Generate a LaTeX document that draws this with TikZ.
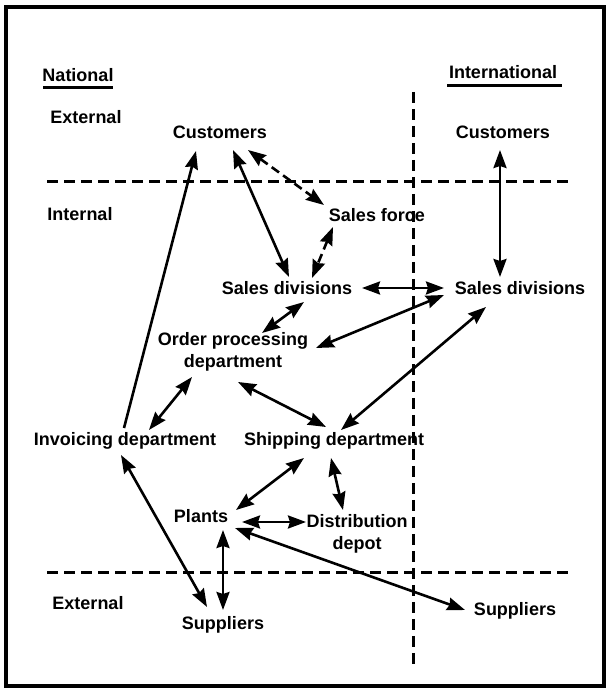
\documentclass[tikz,border=0pt]{standalone}
\usepackage{fontspec}
\setmainfont{Liberation Sans}
\usepackage{xcolor}
\usetikzlibrary{arrows.meta,positioning,calc}

\begin{document}
\begin{tikzpicture}[
        x=1pt, y=1pt,
        unit_node/.style={
            font=\fontsize{18}{22}\selectfont\bfseries,
            align=center,
            inner sep=2pt
        },
        solid_arrow/.style={
            draw=black,
            line width=2.6pt,
            {Stealth[length=18pt,width=13pt,inset=2pt]}-{Stealth[length=18pt,width=13pt,inset=2pt]}
        },
        single_arrow/.style={
            draw=black,
            line width=2.6pt,
            -{Stealth[length=18pt,width=13pt,inset=2pt]}
        },
        dashed_arrow/.style={
            solid_arrow,
            dash pattern=on 9pt off 5pt
        },
        divider/.style={
            draw=black,
            line width=3pt,
            dash pattern=on 11pt off 6pt
        },
        bar/.style={
            draw=black,
            line width=3pt
        }
    ]
        \useasboundingbox (0,0) rectangle (608,691);
        \draw[line width=3.5pt] (6,5) rectangle (604,684);
        \draw[line width=2pt] (5,5) -- (5,684);

        % Headings
        \node[unit_node] (nat)   at (78,616)  {National};
        \node[unit_node] (intl)  at (503,619) {International};
        \node[unit_node] (ext1)  at (86,574)  {External};
        \node[unit_node] (int1)  at (80,477)  {Internal};
        \node[unit_node] (ext2)  at (88,88)   {External};
        \draw[bar] (43,603) -- (113,603);
        \draw[bar] (447,605) -- (562,605);

        % Dividers
        \draw[divider] (47,509) -- (570,509);
        \draw[divider] (47,118) -- (570,118);
        \draw[divider] (413,599) -- (413,21);

        % Coordinates
        \node[unit_node] (cust_nat) at (220,559) {Customers};
        \node[unit_node] (cust_int) at (503,559) {Customers};
        \node[unit_node] (force)    at (377,476) {Sales force};
        \node[unit_node] (div_nat)  at (287,403) {Sales divisions};
        \node[unit_node] (div_int)  at (520,403) {Sales divisions};
        \node[unit_node] (order)    at (233,339) {Order processing\\department};
        \node[unit_node] (inv)      at (125,250) {Invoicing department};
        \node[unit_node] (ship)     at (334,250) {Shipping department};
        \node[unit_node] (plants)   at (201,175) {Plants};
        \node[unit_node] (depot)    at (357,157) {Distribution\\depot};
        \node[unit_node] (supp_nat) at (223,66)  {Suppliers};
        \node[unit_node] (supp_int) at (515,80)  {Suppliers};

        % Flows
        \draw[single_arrow] ($(inv)+(-1,13)$) -- ($(cust_nat)+(-24,-19)$);
        \draw[solid_arrow] ($(cust_nat)+(13,-18)$) -- ($(div_nat)+(2,11)$);
        \draw[dashed_arrow] ($(cust_nat)+(28,-18)$) -- ($(force)+(-53,10)$);
        \draw[dashed_arrow] ($(force)+(-44,-12)$) -- ($(div_nat)+(25,10)$);
        \draw[solid_arrow] ($(cust_int)+(-3,-18)$) -- ($(div_int)+(-20,11)$);
        \draw[solid_arrow] ($(div_nat)+(75,0)$) -- ($(div_int)+(-76,0)$);
        \draw[solid_arrow] ($(div_int)+(-76,-7)$) -- ($(order)+(83,4)$);
        \draw[solid_arrow] ($(div_nat)+(17,-14)$) -- ($(order)+(29,19)$);
        \draw[solid_arrow] ($(div_int)+(-34,-19)$) -- ($(ship)+(7,11)$);
        \draw[solid_arrow] ($(order)+(5,-30)$) -- ($(ship)+(-8,14)$);
        \draw[solid_arrow] ($(order)+(-41,-25)$) -- ($(inv)+(24,11)$);
        \draw[solid_arrow] ($(inv)+(-4,-14)$) -- ($(supp_nat)+(-16,18)$);
        \draw[solid_arrow] ($(ship)+(-30,-17)$) -- ($(plants)+(35,6)$);
        \draw[solid_arrow] ($(ship)+(-3,-17)$) -- ($(depot)+(-14,24)$);
        \draw[solid_arrow] ($(plants)+(41,-6)$) -- ($(depot)+(-51,12)$);
        \draw[solid_arrow] ($(plants)+(22,-14)$) -- ($(supp_nat)+(0,15)$);
        \draw[solid_arrow] ($(plants)+(34,-12)$) -- ($(supp_int)+(-50,1)$);
    \end{tikzpicture}
\end{document}
